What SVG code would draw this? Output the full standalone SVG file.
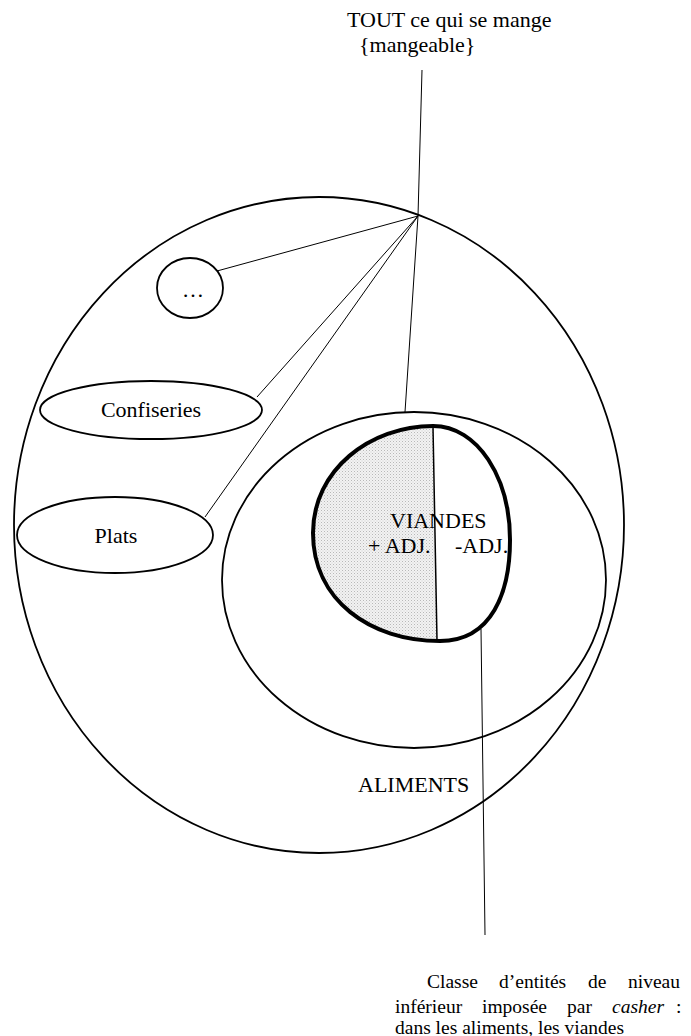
<svg xmlns="http://www.w3.org/2000/svg" width="691" height="1036" viewBox="0 0 691 1036">
<style>
text{font-family:"Liberation Serif","Times New Roman",serif;fill:#000}
.t22{font-size:22px}
.t19{font-size:19.5px}
.shape{fill:none;stroke:#000;stroke-width:1.8}
.conn{stroke:#000;stroke-width:1;fill:none}
</style>
<defs>
<pattern id="stipple" width="3" height="3" patternUnits="userSpaceOnUse">
<rect width="3" height="3" fill="#f2f2f2"/>
<rect x="0" y="0" width="1" height="1" fill="#b8b8b8"/>
<rect x="1.5" y="1.5" width="1" height="1" fill="#cfcfcf"/>
</pattern>
</defs>
<rect width="691" height="1036" fill="#fff"/>
<g id="mangeable">
<ellipse class="shape" cx="319" cy="525" rx="305" ry="328"/>
<text class="t22" x="347" y="27">TOUT ce qui se mange</text>
<text class="t22" x="359" y="52">{mangeable}</text>
</g>
<g id="etc">
<ellipse class="shape" cx="190" cy="288" rx="33" ry="30"/>
<text class="t22" x="193" y="297" text-anchor="middle">…</text>
</g>
<g id="confiseries">
<ellipse class="shape" cx="151" cy="410" rx="111" ry="29"/>
<text class="t22" x="151" y="417" text-anchor="middle">Confiseries</text>
</g>
<g id="plats">
<ellipse class="shape" cx="115" cy="535" rx="98" ry="38"/>
<text class="t22" x="116" y="543" text-anchor="middle">Plats</text>
</g>
<g id="aliments">
<ellipse class="shape" cx="414" cy="580" rx="192" ry="168"/>
<text class="t22" x="358" y="792">ALIMENTS</text>
</g>
<g id="viandes">
<path d="M433,426 C370,426 313,470 313,533 C313,600 370,641 437,641 Z" fill="url(#stipple)" stroke="none"/>
<path d="M433,426 C478,426 510,478 510,540 C510,592 492,641 440,641 C370,641 313,600 313,533 C313,470 370,426 433,426 Z" fill="none" stroke="#000" stroke-width="4"/>
<line x1="433" y1="427" x2="437" y2="640" stroke="#000" stroke-width="1.5"/>
<text class="t22" x="390" y="528">VIANDES</text>
<text class="t22" x="368" y="553">+ ADJ.</text>
<text class="t22" x="455" y="553">-ADJ.</text>
</g>
<g id="note">
<text class="t19" y="988"><tspan x="427">Classe</tspan><tspan x="499">d’entités</tspan><tspan x="588">de</tspan><tspan x="628">niveau</tspan></text>
<text class="t19" y="1013"><tspan x="395">inférieur</tspan><tspan x="482">imposée</tspan><tspan x="567">par</tspan><tspan x="612" font-style="italic">casher</tspan><tspan x="676">:</tspan></text>
<text class="t19" x="395" y="1034">dans les aliments, les viandes</text>
</g>
<g id="connectors">
<line class="conn" x1="422" y1="70" x2="418" y2="216"/>
<line class="conn" x1="418" y1="216" x2="217" y2="271"/>
<line class="conn" x1="418" y1="216" x2="257" y2="397"/>
<line class="conn" x1="418" y1="216" x2="205" y2="517"/>
<line class="conn" x1="418" y1="216" x2="405" y2="412"/>
<line class="conn" x1="481" y1="629" x2="485" y2="935"/>
</g>
</svg>
